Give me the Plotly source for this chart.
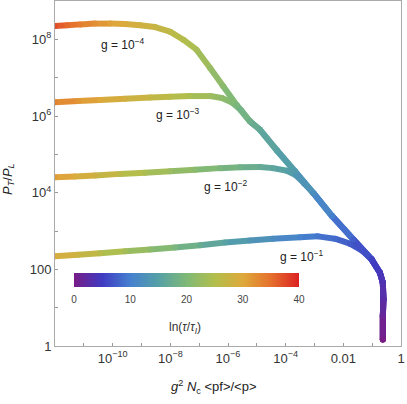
import plotly.graph_objects as go
from plotly.colors import sample_colorscale

# shared rise and attractor (log10 x, log10 y, ln(tau/tau_I))
env_lx = [-0.63, -0.63, -0.61, -0.63, -0.73, -1.02, -1.65, -2.39, -3.03, -3.68,
          -4.30, -4.89, -5.24, -5.70, -6.16, -6.62, -7.09, -7.55, -8.01]
env_ly = [0.17, 0.78, 1.22, 1.65, 1.91, 2.26, 2.78, 3.39, 3.98, 4.56,
          5.10, 5.64, 5.86, 6.29, 6.77, 7.25, 7.73, 7.99, 8.20]
env_t = [0, 1.5, 2.8, 3.6, 4.3, 5.5, 7.5, 10, 12, 14,
         15.3, 16.5, 18, 19.5, 21, 22.5, 24, 25.2, 26.3]

# g = 1e-1 branch
g1_lx = [-1.35, -1.77, -2.29, -2.88, -3.50, -4.44, -5.24, -6.10, -6.97, -7.84,
         -8.70, -9.57, -10.44, -11.20, -12.0]
g1_ly = [2.49, 2.67, 2.80, 2.86, 2.84, 2.80, 2.75, 2.70, 2.63, 2.57,
         2.52, 2.47, 2.42, 2.38, 2.34]
g1_t = [6.4, 7.3, 8.3, 9.3, 10.3, 12, 13.5, 15.3, 17.3, 19.4,
        21.5, 23.6, 25.7, 27.6, 29.5]

# g = 1e-2 branch
g2_lx = [-3.36, -3.64, -3.95, -4.44, -4.89, -5.58, -6.28, -7.14, -8.01, -8.88,
         -9.75, -10.61, -11.31, -12.0]
g2_ly = [4.24, 4.45, 4.57, 4.64, 4.67, 4.66, 4.64, 4.60, 4.56, 4.52,
         4.49, 4.45, 4.42, 4.40]
g2_t = [13, 14, 15, 16, 17, 18.3, 19.5, 21, 22.7, 24.4, 26.2, 28, 29.5, 31]

# g = 1e-3 branch
g3_lx = [-5.55, -5.86, -6.21, -6.62, -7.32, -8.01, -8.70, -9.57, -10.44, -11.20, -12.0]
g3_ly = [6.15, 6.35, 6.47, 6.52, 6.52, 6.50, 6.48, 6.45, 6.42, 6.39, 6.36]
g3_t = [19, 20.3, 21.6, 23, 24.5, 25.8, 27, 28.5, 30, 31.7, 33.3]

# g = 1e-4 branch
g4_lx = [-8.53, -9.05, -9.57, -10.09, -10.61, -11.13, -11.58, -12.0]
g4_ly = [8.32, 8.37, 8.40, 8.41, 8.41, 8.39, 8.37, 8.35]
g4_t = [27.3, 28.3, 29.5, 30.8, 32.2, 33.9, 35.5, 37.2]

# how many attractor points each curve follows before branching off
n_shared = [6, 9, 13, 19]
branches = [(g1_lx, g1_ly, g1_t), (g2_lx, g2_ly, g2_t),
            (g3_lx, g3_ly, g3_t), (g4_lx, g4_ly, g4_t)]

rainbow = [[0.0, "#781c86"], [0.125, "#3f3bc2"], [0.25, "#4580cf"],
           [0.375, "#55a0a6"], [0.5, "#7fb977"], [0.625, "#b2be4c"],
           [0.75, "#dea93b"], [0.875, "#e6702d"], [1.0, "#db2122"]]

FONT = "Liberation Sans, Arial, sans-serif"
LW = 6

fig = go.Figure()

for k, (blx, bly, bt) in enumerate(branches):
    n = n_shared[k]
    lx = env_lx[:n] + blx
    ly = env_ly[:n] + bly
    t = env_t[:n] + bt
    xs = [10 ** v for v in lx]
    ys = [10 ** v for v in ly]
    # one short segment per step so the colour can follow ln(tau)
    for i in range(len(xs) - 1):
        c = sample_colorscale(rainbow, [(t[i] + t[i + 1]) / 80])[0]
        fig.add_trace(go.Scatter(x=xs[i:i + 2], y=ys[i:i + 2], mode="lines",
                                 line=dict(color=c, width=LW),
                                 hoverinfo="skip", showlegend=False))
    fig.add_trace(go.Scatter(
        x=xs, y=ys, mode="markers", showlegend=False, hoverinfo="skip",
        marker=dict(size=LW, color=t, colorscale=rainbow, cmin=0, cmax=40,
                    line=dict(width=0), showscale=(k == 0),
                    colorbar=dict(
                        orientation="h", x=0.38, xanchor="center",
                        y=0.212, yanchor="top", len=0.65, lenmode="fraction",
                        thickness=14, xpad=0, ypad=0, outlinewidth=0,
                        tickvals=[0, 10, 20, 30, 40], ticks="outside",
                        ticklen=4, tickcolor="rgba(0,0,0,0)",
                        tickfont=dict(family=FONT, size=10, color="#444")))))

# colour bar title, set lower than plotly would place it
fig.add_annotation(text="ln(<i>τ</i>/<i>τ</i><sub><i>I</i></sub>)",
                   xref="paper", yref="paper", x=0.375, y=0.052,
                   xanchor="center", yanchor="middle", showarrow=False,
                   font=dict(family=FONT, size=12, color="#333"))

xmaj = [-10, -8, -6, -4, -2, 0]
xlab = ["10<sup>−10</sup>", "10<sup>−8</sup>", "10<sup>−6</sup>",
        "10<sup>−4</sup>", "0.01", "1"]
xmin = [-11, -9, -7, -5, -3, -1]
ymaj = [0, 2, 4, 6, 8]
ylab = ["1", "100", "10<sup>4</sup>", "10<sup>6</sup>", "10<sup>8</sup>"]
ymin = [1, 3, 5, 7]

axis_style = dict(type="log", showgrid=False, zeroline=False, showline=True,
                  linecolor="#aaa", linewidth=1, mirror=True, ticks="inside",
                  ticklen=3, tickcolor="#999", automargin=False,
                  tickfont=dict(family=FONT, size=13, color="#333"))

fig.update_xaxes(range=[-12, 0], tickvals=[10 ** v for v in xmaj], ticktext=xlab,
                 minor=dict(tickvals=[10 ** v for v in xmin], ticks="inside",
                            ticklen=3, tickcolor="#999", showgrid=False),
                 **axis_style)
fig.update_yaxes(range=[0, 9], tickvals=[10 ** v for v in ymaj], ticktext=ylab,
                 minor=dict(tickvals=[10 ** v for v in ymin], ticks="inside",
                            ticklen=3, tickcolor="#999", showgrid=False),
                 **axis_style)

labels = [("g = 10<sup>−4</sup>", -9.64, 7.89), ("g = 10<sup>−3</sup>", -7.73, 6.04),
          ("g = 10<sup>−2</sup>", -6.07, 4.17), ("g = 10<sup>−1</sup>", -3.43, 2.34)]
for txt, ax, ay in labels:
    fig.add_annotation(text=txt, x=ax, y=ay, showarrow=False,
                       font=dict(family=FONT, size=12, color="#222"))

fig.add_annotation(text="<i>g</i><sup>2</sup> <i>N</i><sub>c</sub> &lt;pf&gt;/&lt;p&gt;",
                   xref="paper", yref="paper", x=0.46, y=-0.119,
                   xanchor="center", yanchor="middle", showarrow=False,
                   font=dict(family=FONT, size=13, color="#222"))
fig.add_annotation(text="<i>P</i><sub><i>T</i></sub>/<i>P</i><sub><i>L</i></sub>",
                   xref="paper", yref="paper", x=-0.135, y=0.485,
                   xanchor="center", yanchor="middle", showarrow=False,
                   textangle=-90, font=dict(family=FONT, size=13, color="#222"))

fig.update_layout(width=407, height=404, margin=dict(l=55, r=6, t=1, b=58,
                                                     autoexpand=False),
                  plot_bgcolor="white", paper_bgcolor="white",
                  font=dict(family=FONT))

fig.write_html("out.html", config={"displayModeBar": False},
               post_script="document.body.style.margin='0';")
